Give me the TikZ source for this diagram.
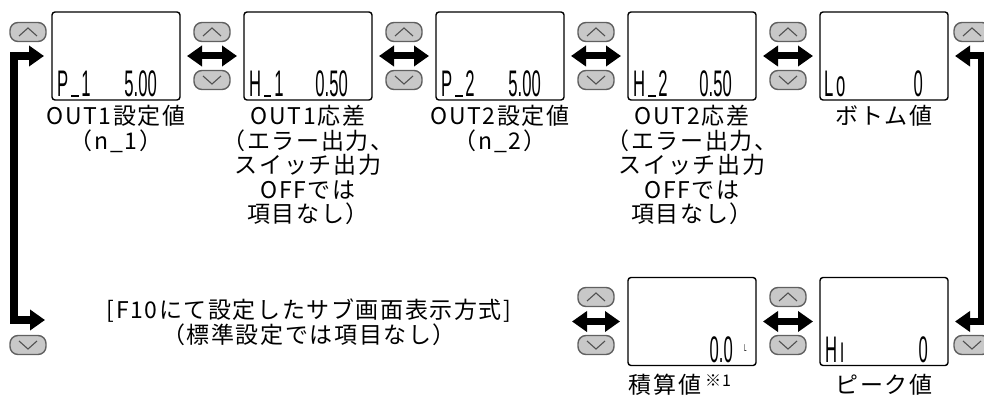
\documentclass[tikz,border=0pt]{standalone}
\usepackage{fontspec}
\newfontfamily\jpfont[LetterSpace=7]{Noto Sans CJK JP}
\newfontfamily\segfont{Liberation Sans}
\usetikzlibrary{arrows.meta,positioning}
\definecolor{btnfill}{HTML}{C8C8C8}
\definecolor{btnedge}{HTML}{606060}
\definecolor{chevcol}{HTML}{505050}
\newcommand\lcdtxt[1]{\scalebox{0.45}[1]{#1}}
\newcommand\us{\,\rule{0.45em}{0.06em}\,}
\begin{document}
\begin{tikzpicture}[x=1pt,y=-1pt,
  lcd/.style={draw=black,line width=1.4pt,rounded corners=3pt,fill=white,
    minimum width=128pt,minimum height=88pt,inner sep=0pt,outer sep=0pt},
  btn/.style={draw=btnedge,line width=1.4pt,fill=btnfill,rounded corners=8pt,
    minimum width=36pt,minimum height=19pt,inner sep=0pt},
  chev/.style={draw=chevcol,line width=1.1pt},
  seg/.style={inner sep=0pt,font=\segfont\fontsize{37pt}{37pt}\selectfont},
  lbl/.style={inner sep=0pt,align=center,font=\jpfont\fontsize{23pt}{24.5pt}\selectfont},
  big/.style={line width=7pt,{Triangle[length=15pt,width=20pt]}-{Triangle[length=15pt,width=20pt]}}]
\useasboundingbox (0,0) rectangle (984,401);
% buttons
\def\upbtn#1#2{\node[btn] (#1) at (#2) {};
  \draw[chev] ([shift={(-9pt,-4pt)}]#1.center) -- ([shift={(0pt,4pt)}]#1.center)
    -- ([shift={(9pt,-4pt)}]#1.center);}
\def\dnbtn#1#2{\node[btn] (#1) at (#2) {};
  \draw[chev] ([shift={(-9pt,4pt)}]#1.center) -- ([shift={(0pt,-4pt)}]#1.center)
    -- ([shift={(9pt,4pt)}]#1.center);}
% displays
\node[lcd] (p1) at (116,56) {};
\node[lcd] (h1) at (308,56) {};
\node[lcd] (p2) at (500,56) {};
\node[lcd] (h2) at (692,56) {};
\node[lcd] (lo) at (884,56) {};
\node[lcd] (sum) at (692,321.5) {};
\node[lcd] (hi) at (884,321.5) {};
% display contents
\node[seg,anchor=base west] (p1l) at ([xshift=5pt,yshift=3pt]p1.south west) {\lcdtxt{P\us 1}};
\node[seg,anchor=base east] (p1r) at ([xshift=-23pt,yshift=3pt]p1.south east) {\lcdtxt{5.00}};
\node[seg,anchor=base west] (h1l) at ([xshift=5pt,yshift=3pt]h1.south west) {\lcdtxt{H\us 1}};
\node[seg,anchor=base east] (h1r) at ([xshift=-24pt,yshift=3pt]h1.south east) {\lcdtxt{0.50}};
\node[seg,anchor=base west] (p2l) at ([xshift=5pt,yshift=3pt]p2.south west) {\lcdtxt{P\us 2}};
\node[seg,anchor=base east] (p2r) at ([xshift=-23pt,yshift=3pt]p2.south east) {\lcdtxt{5.00}};
\node[seg,anchor=base west] (h2l) at ([xshift=5pt,yshift=3pt]h2.south west) {\lcdtxt{H\us 2}};
\node[seg,anchor=base east] (h2r) at ([xshift=-24pt,yshift=3pt]h2.south east) {\lcdtxt{0.50}};
\node[seg,anchor=base west] (lol) at ([xshift=4pt,yshift=3pt]lo.south west) {\lcdtxt{L\,o}};
\node[seg,anchor=base east] (lor) at ([xshift=-25pt,yshift=3pt]lo.south east) {\lcdtxt{0}};
\node[seg,anchor=base east] (sumr) at ([xshift=-23pt,yshift=3pt]sum.south east) {\lcdtxt{0.0}};
\node[seg,anchor=base west,font=\segfont\fontsize{10pt}{10pt}\selectfont] (sumu)
  at ([xshift=-12pt,yshift=14pt]sum.south east) {\lcdtxt{L}};
\node[seg,anchor=base west] (hil) at ([xshift=5pt,yshift=3pt]hi.south west) {\lcdtxt{H\,ı}};
\node[seg,anchor=base east] (hir) at ([xshift=-20pt,yshift=3pt]hi.south east) {\lcdtxt{0}};
% keys
\upbtn{u0}{28,32}
\dnbtn{d0}{28,345}
\foreach \x in {212,404,596,788} {\upbtn{u\x}{\x,32} \dnbtn{d\x}{\x,80}}
\foreach \x in {596,788} {\upbtn{v\x}{\x,297} \dnbtn{w\x}{\x,345}}
\upbtn{u9}{972,32}
\dnbtn{d9}{972,345}
% arrows
\draw[big] ([xshift=7pt]p1.east) -- ([xshift=-7pt]h1.west);
\draw[big] ([xshift=7pt]h1.east) -- ([xshift=-7pt]p2.west);
\draw[big] ([xshift=7pt]p2.east) -- ([xshift=-7pt]h2.west);
\draw[big] ([xshift=7pt]h2.east) -- ([xshift=-7pt]lo.west);
\draw[big] ([xshift=7pt]sum.east) -- ([xshift=-7pt]hi.west);
\coordinate (sl) at (572,321.5);
\draw[big] (sl) -- ([xshift=-8pt]sum.west);
\coordinate (lc1) at (14,56);
\coordinate (lc2) at (14,320);
\coordinate (lb) at (45,320);
\draw[big,line width=8pt] ([xshift=-8pt]p1.west) -- (lc1) -- (lc2) -- (lb);
\coordinate (rc1) at (981,56);
\coordinate (rc2) at (981,321.5);
\draw[big] ([xshift=7pt]lo.east) -- (rc1) -- (rc2) -- ([xshift=7pt]hi.east);
% labels
\node[lbl,below=5pt of p1] (p1t) {OUT1設定値\\（n\_1）};
\node[lbl,below=5pt of h1] (h1t) {OUT1応差\\（エラー出力、\\スイッチ出力\\OFFでは\\項目なし）};
\node[lbl,below=5pt of p2] (p2t) {OUT2設定値\\（n\_2）};
\node[lbl,below=5pt of h2] (h2t) {OUT2応差\\（エラー出力、\\スイッチ出力\\OFFでは\\項目なし）};
\node[lbl,below=5pt of lo] (lot) {ボトム値};
\node[lbl,anchor=north] (sumt) at ([xshift=-12pt,yshift=-8pt]sum.south)
  {積算値\,\raisebox{0.3em}{\fontsize{16pt}{16pt}\selectfont ※1}};
\node[lbl,below=8pt of hi] (hit) {ピーク値};
\node[lbl,anchor=north] (f10t) at (309,299) {[F10にて設定したサブ画面表示方式]\\（標準設定では項目なし）};
\end{tikzpicture}
\end{document}
